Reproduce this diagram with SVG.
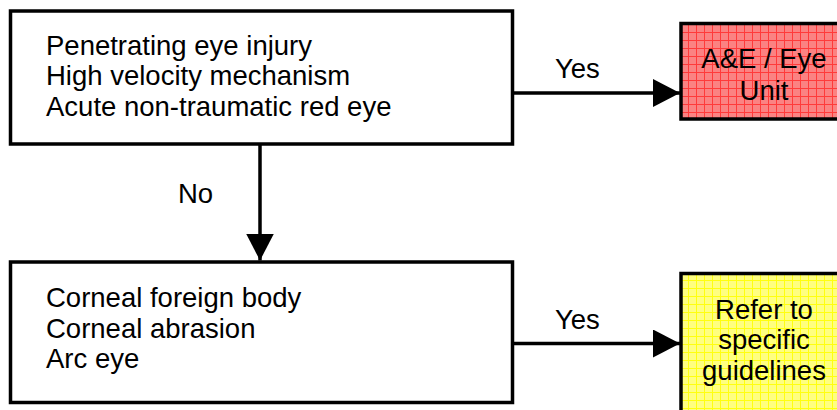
<svg xmlns="http://www.w3.org/2000/svg" width="837" height="410" viewBox="0 0 837 410">
<style>
.box{fill:#fff;stroke:#000;stroke-width:3.5}
.t{font-family:"Liberation Sans",Arial,sans-serif;font-size:27.5px;fill:#000}
.c{text-anchor:middle}
.ln{stroke:#000;stroke-width:3.5;fill:none}
</style>
<defs>
<pattern id="pr" width="8" height="8" patternUnits="userSpaceOnUse">
<rect width="8" height="8" fill="#fb8282"/>
<path d="M0 0.5H8M0.5 0V8" stroke="#ff3a3a" stroke-width="1"/>
</pattern>
<pattern id="py" width="8" height="8" patternUnits="userSpaceOnUse">
<rect width="8" height="8" fill="#ffff80"/>
<path d="M0 0.5H8M0.5 0V8" stroke="#ffff10" stroke-width="1"/>
</pattern>
<marker id="ah" markerWidth="27" markerHeight="28" refX="27" refY="14" markerUnits="userSpaceOnUse" orient="auto">
<path d="M0 0L27 14L0 28Z" fill="#000"/>
</marker>
</defs>
<g id="n1">
<rect class="box" x="10.5" y="11" width="502" height="133"/>
<text class="t" x="46" y="55">Penetrating eye injury</text>
<text class="t" x="46" y="85">High velocity mechanism</text>
<text class="t" x="46" y="116">Acute non-traumatic red eye</text>
</g>
<g id="n2">
<rect class="box" x="10.5" y="262" width="502" height="140.5"/>
<text class="t" x="46" y="307">Corneal foreign body</text>
<text class="t" x="46" y="337.5">Corneal abrasion</text>
<text class="t" x="46" y="368">Arc eye</text>
</g>
<g id="n3">
<rect x="681" y="23.5" width="200" height="95.5" fill="url(#pr)" stroke="#000" stroke-width="3.5"/>
<text class="t c" x="764" y="67.5">A&amp;E / Eye</text>
<text class="t c" x="764" y="99.5">Unit</text>
</g>
<g id="n4">
<rect x="681" y="273.5" width="200" height="160" fill="url(#py)" stroke="#000" stroke-width="3.5"/>
<text class="t c" x="764" y="319">Refer to</text>
<text class="t c" x="764" y="349">specific</text>
<text class="t c" x="764" y="379.5">guidelines</text>
</g>
<g id="connectors">
<path class="ln" d="M512.5 93H680" marker-end="url(#ah)"/>
<path class="ln" d="M512.5 343.5H680" marker-end="url(#ah)"/>
<path class="ln" d="M260 144V260.5" marker-end="url(#ah)"/>
<text class="t" x="555" y="78">Yes</text>
<text class="t" x="555" y="329">Yes</text>
<text class="t" x="178" y="203">No</text>
</g>
</svg>
